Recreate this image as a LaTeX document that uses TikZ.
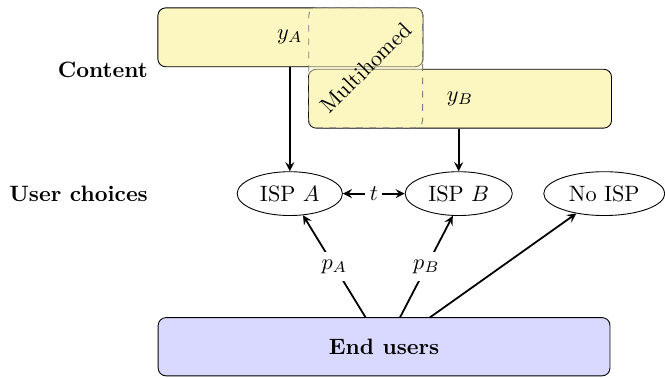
\documentclass[tikz,border=0pt]{standalone}
\usetikzlibrary{positioning,shapes.geometric}

\definecolor{contentfill}{RGB}{252,246,192}
\definecolor{userfill}{RGB}{217,217,255}

\begin{document}
\begin{tikzpicture}[
        >=stealth,
        contentbox/.style={shape=rectangle, rounded corners=3.5pt, draw, fill=contentfill, minimum height=0.93cm},
        multibox/.style={shape=rectangle, rounded corners=3.5pt, draw=gray, dashed, fill=contentfill, fill opacity=0.5, minimum width=1.8cm, minimum height=1.9cm},
        userbox/.style={shape=rectangle, rounded corners=3.5pt, draw, fill=userfill, minimum width=7.14cm, minimum height=0.92cm},
        isp/.style={shape=ellipse, draw},
        rowlabel/.style={anchor=east, font=\bfseries},
        arrow/.style={->, thick}
    ]

        \useasboundingbox (0,0) rectangle (10.51,5.97);

        % content providers
        \node[contentbox, minimum width=4.19cm] (contA) at (4.59,5.38) {};
        \node[contentbox, minimum width=4.79cm] (contB) at (7.27,4.41) {};
        \node[multibox] (multi) at (5.78,4.90) {};
        \node[rotate=45] (multilabel) at (5.78,4.90) {Multihomed};
        \node (yA) at (4.58,5.39) {$y_A$};
        \node (yB) at (7.27,4.41) {$y_B$};

        % ISPs
        \node[isp] (ispA) at (4.58,2.91) {ISP $A$};
        \node[isp] (ispB) at (7.25,2.91) {ISP $B$};
        \node[isp] (noisp) at (9.55,2.91) {No ISP};

        % end users
        \node[userbox] (users) at (6.07,0.49) {\textbf{End users}};

        % row labels
        \node[rowlabel] (contentlabel) at (2.46,4.87) {Content};
        \node[rowlabel] (choicelabel) at (2.46,2.91) {User choices};

        \draw[arrow] (contA.south -| ispA.north) -- (ispA);
        \draw[arrow] (contB.south -| ispB.north) -- (ispB);
        \draw[arrow, <->] (ispA) -- node[fill=white, inner sep=2pt] {$t$} (ispB);

        \coordinate (usersA) at (5.78,0.95);
        \coordinate (usersB) at (6.32,0.95);
        \coordinate (usersN) at (6.79,0.95);
        \draw[arrow] (usersA) -- node[fill=white] {$p_A$} (ispA);
        \draw[arrow] (usersB) -- node[fill=white] {$p_B$} (ispB.255);
        \draw[arrow] (usersN) -- (noisp);

    \end{tikzpicture}
\end{document}
